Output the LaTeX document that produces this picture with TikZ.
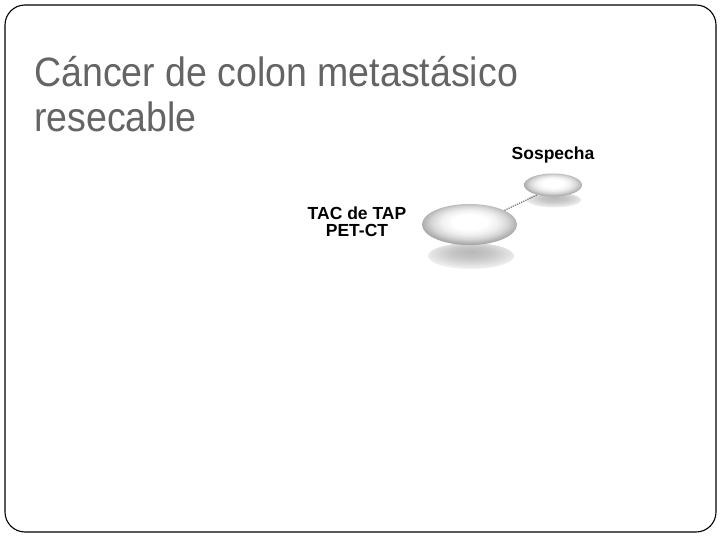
\documentclass[tikz,border=0pt]{standalone}
\usepackage{fontspec}
\setmainfont{Liberation Sans}
\newfontfamily\titlefont[FakeStretch=0.915]{Liberation Sans}
\usetikzlibrary{shapes.geometric}
\definecolor{titlegray}{RGB}{100,100,100}
\pgfdeclareradialshading{pill}{\pgfpoint{0bp}{4bp}}{color(0bp)=(white); color(9bp)=(white); color(15bp)=(white!94!black); color(20bp)=(white!84!black); color(25bp)=(white!68!black); color(29bp)=(white!55!black); color(50bp)=(white!55!black)}
\pgfdeclareradialshading{refl}{\pgfpoint{0bp}{9bp}}{color(0bp)=(white!72!black); color(12bp)=(white!78!black); color(20bp)=(white!86!black); color(28bp)=(white!95!black); color(34bp)=(white); color(50bp)=(white)}
\tikzset{
  frame/.style={draw=black, line width=1.1pt, rounded corners=20pt},
  titletext/.style={anchor=base west, text=titlegray, font=\titlefont\fontsize{41}{46}\selectfont, inner sep=0pt},
  lbl/.style={text=black, font=\bfseries\fontsize{17.5}{16.5}\selectfont, align=center, inner sep=0pt},
  pillnode/.style={ellipse, shading=pill, inner sep=0pt},
  reflnode/.style={ellipse, shading=refl, inner sep=0pt},
  link/.style={draw=gray, line width=1.3pt, densely dotted}
}
\begin{document}
\begin{tikzpicture}[x=1pt, y=-1pt]
\useasboundingbox (0,0) rectangle (720,540);
\fill[white] (0,0) rectangle (720,540);
\draw[frame] (5,5) rectangle (716,532);
\node[titletext] (t1) at (34,87) {Cáncer de colon metastásico};
\node[titletext] (t2) at (34,132) {resecable};
% reflections
\node[reflnode, minimum width=86pt, minimum height=26pt] (bigr) at (471,256) {};
\node[reflnode, minimum width=54pt, minimum height=15pt] (smallr) at (554,200) {};
% pills
\node[pillnode, minimum width=95pt, minimum height=41pt] (big) at (469.5,224.5) {};
\node[pillnode, minimum width=58pt, minimum height=23pt] (small) at (553,185) {};
\draw[link] (big.22) -- (small.212);
\node[lbl] (tac) at (357,221.5) {TAC de TAP\\PET-CT};
\node[lbl, anchor=base] (sos) at (553,160) {Sospecha};
\end{tikzpicture}
\end{document}
